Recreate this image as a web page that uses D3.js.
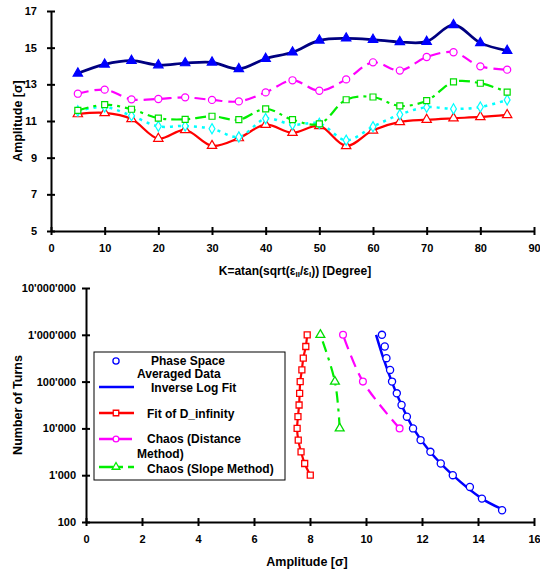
<!DOCTYPE html>
<html><head><meta charset="utf-8">
<script src="https://cdn.jsdelivr.net/npm/d3@7"></script>
<style>
body{margin:0;background:#fff;}
svg{display:block;font-family:"Liberation Sans",Arial,sans-serif;font-weight:bold;}
</style></head>
<body><svg id="c" width="540" height="570"></svg>
<script>
// ---------- Top chart data ----------
const kAngles = [5,10,15,20,25,30,35,40,45,50,55,60,65,70,75,80,85];
const navySeries   = [13.6,14.09,14.29,14.05,14.16,14.2,13.84,14.4,14.75,15.4,15.51,15.44,15.31,15.33,16.24,15.26,14.84];
const magentaSeries= [12.49,12.71,12.18,12.2,12.29,12.15,12.07,12.56,13.22,12.65,13.27,14.2,13.75,14.49,14.75,13.98,13.8];
const greenSeries  = [11.58,11.89,11.64,11.16,11.09,11.26,11.07,11.66,11.07,10.84,12.16,12.31,11.82,12.11,13.13,13.06,12.58];
const cyanSeries   = [11.55,11.76,11.29,10.71,10.73,10.58,10.13,11.13,10.8,10.87,9.95,10.69,11.35,11.75,11.66,11.76,12.15];
const redSeries    = [11.38,11.44,11.11,10.04,10.51,9.65,10.07,10.8,10.36,10.73,9.64,10.49,10.95,11.07,11.15,11.22,11.33];
const topXTicks = [0,10,20,30,40,50,60,70,80,90];
const topYTicks = [5,7,9,11,13,15,17];

// ---------- Bottom chart data ----------
const phaseTurns = [178,316,562,1000,1778,3162,5623,10000,17783,31623,56234,100000,177828,316228,562341,1000000];
const phaseAmp   = [14.86,14.14,13.71,13.1,12.67,12.3,11.95,11.68,11.46,11.27,11.1,10.93,10.86,10.73,10.67,10.57];
const fitTurns   = [195,316,1000,3162,10000,31623,100000,316228,1000000];
const fitAmp     = [14.8,14.14,13.1,12.29,11.69,11.27,10.92,10.62,10.36];
const dinfTurns  = [1000,1778,3162,5623,10000,17783,31623,56234,100000,177828,316228,562341,1000000];
const dinfAmp    = [8.01,7.81,7.68,7.58,7.54,7.57,7.61,7.63,7.65,7.71,7.76,7.85,7.9];
const distTurns  = [10000,100000,1000000];
const distAmp    = [11.2,9.89,9.18];
const slopeTurns = [10000,100000,1000000];
const slopeAmp   = [9.06,8.89,8.37];
const botXTicks = [0,2,4,6,8,10,12,14,16];
const botYTicks = [100,1000,10000,100000,1000000,10000000];

const svg = d3.select("#c");
const loc = d3.formatLocale({decimal:".",thousands:"'",grouping:[3],currency:["",""]});
const fmtT = loc.format(",d");

function styleAxis(g, orient){
  g.select(".domain").attr("stroke","#000").attr("stroke-width",2);
  g.selectAll(".tick line").attr("stroke","#000").attr("stroke-width",2);
  if(orient==="left") g.selectAll(".tick line").attr("x1",-4).attr("x2",4);
  else g.selectAll(".tick line").attr("y1",-4).attr("y2",4);
  g.selectAll("text").attr("font-size",11).attr("font-weight","bold").attr("fill","#000")
   .attr("font-family","'Liberation Sans',Arial,sans-serif");
}

// ============ TOP CHART ============
const xT = d3.scaleLinear().domain([0,90]).range([51,534]);
const yT = d3.scaleLinear().domain([5,17]).range([231,11]);

const gTop = svg.append("g");
gTop.append("g").attr("transform","translate(0,231)")
  .call(d3.axisBottom(xT).tickValues(topXTicks).tickSizeInner(4).tickSizeOuter(0).tickPadding(9))
  .call(g=>styleAxis(g,"bottom"));
gTop.append("g").attr("transform","translate(51,0)")
  .call(d3.axisLeft(yT).tickValues(topYTicks).tickSizeInner(4).tickSizeOuter(0).tickPadding(10))
  .call(g=>styleAxis(g,"left"));

const topCurve = d3.curveCatmullRom.alpha(0.5);
const topSeries = [
  {vals:redSeries, color:"#ff0000", dash:null, w:2.2, marker:"tri", fill:"#fff", mcolor:"#ff0000"},
  {vals:cyanSeries, color:"#00ffff", dash:"3,5", w:2.5, marker:"diamond", fill:"#fff", mcolor:"#00ffff"},
  {vals:greenSeries, color:"#00ee00", dash:"11,5,3,5", w:2.2, marker:"square", fill:"#fff", mcolor:"#00dd00"},
  {vals:magentaSeries, color:"#ff00ff", dash:"11,6", w:2.2, marker:"circle", fill:"#fff", mcolor:"#ff00ff"},
  {vals:navySeries, color:"#000080", dash:null, w:2.7, marker:"tri", fill:"#0000ff", mcolor:"#0000ff"}
];
const symType = {tri:d3.symbolTriangle, diamond:d3.symbolDiamond, square:d3.symbolSquare, circle:d3.symbolCircle};
const symSize = {tri:38, diamond:30, square:36, circle:40};

topSeries.forEach(s=>{
  const pts = kAngles.map((k,i)=>[xT(k), yT(s.vals[i])]);
  gTop.append("path").attr("d", d3.line().curve(topCurve)(pts))
    .attr("fill","none").attr("stroke",s.color).attr("stroke-width",s.w)
    .attr("stroke-dasharray",s.dash);
  gTop.selectAll(null).data(kAngles).enter().append("path")
    .attr("transform",(k,i)=>`translate(${xT(k)},${yT(s.vals[i])})`)
    .attr("d", d3.symbol().type(symType[s.marker]).size(symSize[s.marker]))
    .attr("fill",s.fill).attr("stroke",s.mcolor).attr("stroke-width",1.2);
});

// top axis titles
svg.append("text").attr("transform","translate(22,121) rotate(-90)")
  .attr("text-anchor","middle").attr("font-size",12.5).text("Amplitude [σ]");
const tx = svg.append("text").attr("x",295).attr("y",275).attr("text-anchor","middle").attr("font-size",12);
tx.append("tspan").text("K=atan(sqrt(ε");
tx.append("tspan").attr("font-size",8).attr("dy",2).text("II");
tx.append("tspan").attr("dy",-2).text("/ε");
tx.append("tspan").attr("font-size",8).attr("dy",2).text("I");
tx.append("tspan").attr("dy",-2).text(")) [Degree]");

// ============ BOTTOM CHART ============
const xB = d3.scaleLinear().domain([0,16]).range([86,534]);
const yB = d3.scaleLog().domain([100,1e7]).range([522,288]);

const gBot = svg.append("g");
gBot.append("g").attr("transform","translate(0,522)")
  .call(d3.axisBottom(xB).tickValues(botXTicks).tickSizeInner(4).tickSizeOuter(0).tickPadding(9))
  .call(g=>styleAxis(g,"bottom"));
gBot.append("g").attr("transform","translate(86,0)")
  .call(d3.axisLeft(yB).tickValues(botYTicks).tickFormat(fmtT).tickSizeInner(4).tickSizeOuter(0).tickPadding(6))
  .call(g=>styleAxis(g,"left"));

const bc = d3.curveCatmullRom.alpha(0.5);
function botLine(turns, amps, color, dash, w){
  const pts = turns.map((t,i)=>[xB(amps[i]), yB(t)]);
  gBot.append("path").attr("d", d3.line().curve(bc)(pts))
    .attr("fill","none").attr("stroke",color).attr("stroke-width",w).attr("stroke-dasharray",dash);
}
function botMarks(turns, amps, type, size, color){
  gBot.selectAll(null).data(turns).enter().append("path")
    .attr("transform",(t,i)=>`translate(${xB(amps[i])},${yB(t)})`)
    .attr("d", d3.symbol().type(type).size(size))
    .attr("fill","#fff").attr("stroke",color).attr("stroke-width",1.3);
}
botLine(fitTurns, fitAmp, "#0000ff", null, 2.5);
botLine(dinfTurns, dinfAmp, "#ff0000", null, 2.2);
botLine(distTurns, distAmp, "#ff00ff", "12,7", 2.2);
botLine(slopeTurns, slopeAmp, "#00ee00", "11,6,3,6", 2.2);
botMarks(phaseTurns, phaseAmp, d3.symbolCircle, 40, "#0000ff");
botMarks(dinfTurns, dinfAmp, d3.symbolSquare, 36, "#ff0000");
botMarks(distTurns, distAmp, d3.symbolCircle, 36, "#ff00ff");
botMarks(slopeTurns, slopeAmp, d3.symbolTriangle, 34, "#00dd00");

svg.append("text").attr("transform","translate(22,405) rotate(-90)")
  .attr("text-anchor","middle").attr("font-size",12.5).text("Number of Turns");
svg.append("text").attr("x",307).attr("y",566).attr("text-anchor","middle").attr("font-size",12.5).text("Amplitude [σ]");

// ---------- Legend ----------
const lg = svg.append("g");
lg.append("rect").attr("x",94).attr("y",352).attr("width",191).attr("height",128)
  .attr("fill","#fff").attr("stroke","#000").attr("stroke-width",1);
const legendItems = [
  {y:361, ty:364.5, text:"Phase Space", tx:151, line:false, color:"#0000ff", sym:d3.symbolCircle, sz:30},
  {y:387, ty:392, text:"Inverse Log Fit", tx:151, line:true, dash:null, color:"#0000ff", sym:null},
  {y:413, ty:417.5, text:"Fit of D_infinity", tx:147, line:true, dash:null, color:"#ff0000", sym:d3.symbolSquare, sz:30},
  {y:439, ty:443, text:"Chaos (Distance", tx:147, line:true, dash:"14,5", color:"#ff00ff", sym:d3.symbolCircle, sz:26},
  {y:467, ty:472.5, text:"Chaos (Slope Method)", tx:147, line:true, dash:"14,5,5,5", color:"#00ee00", sym:d3.symbolTriangle, sz:26}
];
legendItems.forEach(it=>{
  if(it.line) lg.append("line").attr("x1",99).attr("x2",134).attr("y1",it.y).attr("y2",it.y)
    .attr("stroke",it.color).attr("stroke-width",2.5).attr("stroke-dasharray",it.dash);
  if(it.sym) lg.append("path").attr("transform",`translate(116,${it.y})`)
    .attr("d",d3.symbol().type(it.sym).size(it.sz)).attr("fill","#fff").attr("stroke",it.color).attr("stroke-width",1.3);
  lg.append("text").attr("x",it.tx).attr("y",it.ty).attr("font-size",12).text(it.text);
});
lg.append("text").attr("x",137).attr("y",378).attr("font-size",12).text("Averaged Data");
lg.append("text").attr("x",137).attr("y",458).attr("font-size",12).text("Method)");
</script></body></html>
